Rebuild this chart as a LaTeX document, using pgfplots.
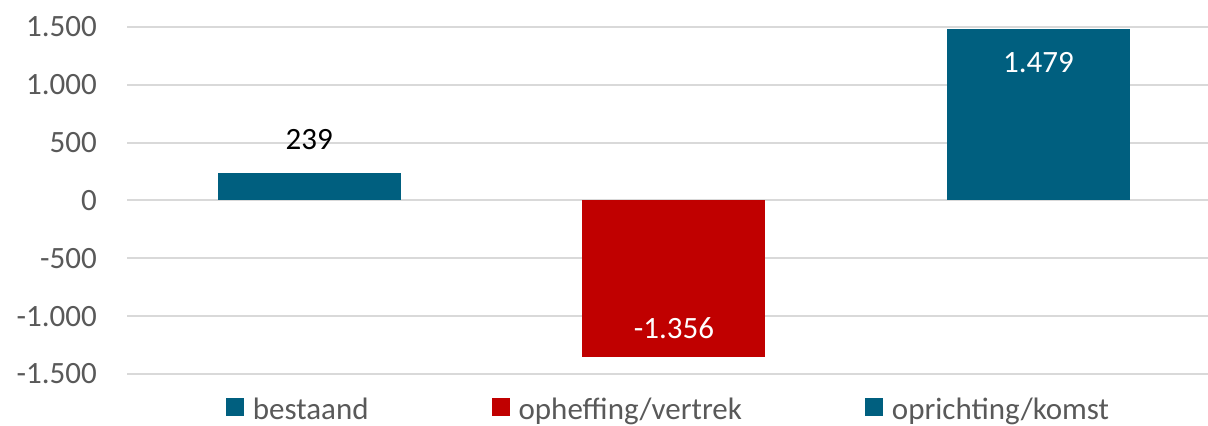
\documentclass[border=0pt]{standalone}
\usepackage{pgfplots}
\pgfplotsset{compat=1.18}
\usepackage{fontspec}
\setmainfont{Carlito}
\definecolor{teal}{HTML}{005F7F}
\definecolor{red}{HTML}{C00000}
\definecolor{txt}{HTML}{595959}
\definecolor{grd}{HTML}{D9D9D9}
\pgfkeys{/pgf/number format/.cd,1000 sep={.},assume math mode=true}
\begin{document}
\begin{tikzpicture}[font=\fontsize{31bp}{37bp}\selectfont]
\path[use as bounding box] (0,0) rectangle (1208bp,426bp);
\begin{axis}[
  at={(127bp,52bp)}, anchor=south west,
  scale only axis, width=1081bp, height=347bp,
  xmin=-0.5, xmax=2.465, ymin=-1500, ymax=1500,
  ytick={-1500,-1000,...,1500}, xtick=\empty,
  ymajorgrids, grid style={color=grd, line width=2bp},
  axis line style={draw=none}, major tick length=0pt,
  yticklabel style={anchor=east, inner sep=0pt, xshift=-30bp, text=txt},
  ybar, bar width=183bp,
  legend image code/.code={\fill[#1] (0bp,-6bp) rectangle (18bp,12bp);},
  legend columns=3, legend cell align=left,
  legend style={draw=none, fill=none, at={(0.5,-0.102)}, anchor=center,
    text=txt, font=\fontsize{31bp}{37bp}\selectfont,
    nodes={inner sep=0pt},
    /tikz/every odd column/.append style={column sep=9bp},
    /tikz/every even column/.append style={column sep=123bp}},
  nodes near coords,
  clip=false,
]
\addplot[fill=teal, draw=none, bar shift=0pt,
  every node near coord/.append style={anchor=center, yshift=33bp, text=black}]
  coordinates {(0,239)};
\addlegendentry{bestaand}
\addplot[fill=red, draw=none, bar shift=0pt,
  every node near coord/.append style={anchor=center, yshift=29bp, text=white}]
  coordinates {(1,-1356)};
\addlegendentry{opheffing/vertrek}
\addplot[fill=teal, draw=none, bar shift=0pt,
  every node near coord/.append style={anchor=center, yshift=-33bp, text=white}]
  coordinates {(2,1479)};
\addlegendentry{oprichting/komst}
\end{axis}
\end{tikzpicture}
\end{document}
